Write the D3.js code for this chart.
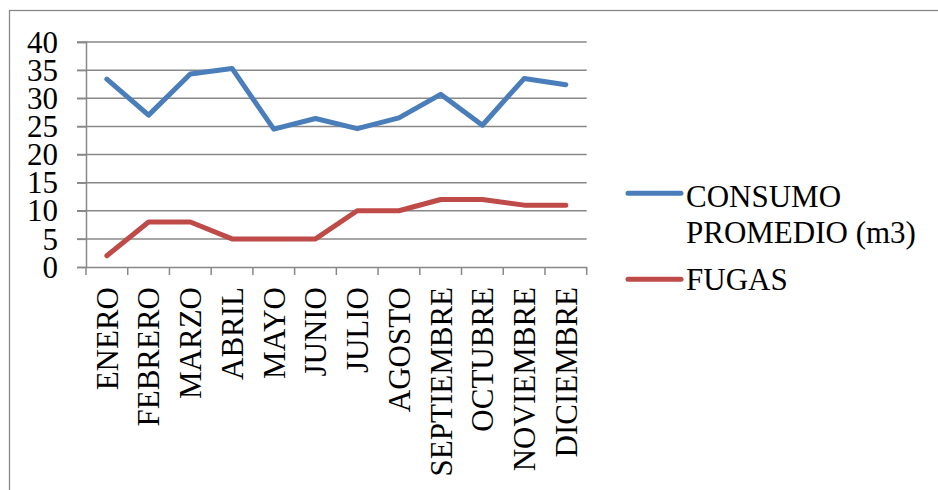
<!DOCTYPE html>
<html>
<head>
<meta charset="utf-8">
<script src="https://cdn.jsdelivr.net/npm/d3@7"></script>
<style>
html,body{margin:0;padding:0;background:#fff;}
svg{display:block;}
svg text{font-family:"Liberation Serif","Times New Roman","DejaVu Serif",serif !important;fill:#000;}
</style>
</head>
<body>
<svg id="chart" width="938" height="490"></svg>
<script>
const months = ["ENERO","FEBRERO","MARZO","ABRIL","MAYO","JUNIO","JULIO","AGOSTO","SEPTIEMBRE","OCTUBRE","NOVIEMBRE","DICIEMBRE"];
const consumo = [33.4, 27.0, 34.3, 35.3, 24.5, 26.4, 24.6, 26.5, 30.7, 25.2, 33.5, 32.4];
const fugas = [2, 8, 8, 5, 5, 5, 10, 10, 12, 12, 11, 11];
const yTicks = [0, 5, 10, 15, 20, 25, 30, 35, 40];
const seriesNames = ["CONSUMO PROMEDIO (m3)", "FUGAS"];
const seriesColors = ["#4A7EBB", "#BE4B48"];

const svg = d3.select("#chart");
const FS = 31;
const plotL = 86, plotR = 586.7, plotT = 42, plotB = 267;

// outer border
svg.append("rect").attr("x", 9.5).attr("y", 10.5).attr("width", 960).attr("height", 520)
  .attr("fill", "none").attr("stroke", "#888").attr("stroke-width", 1.3);

const x = d3.scaleBand().domain(months).range([plotL, plotR]);
const y = d3.scaleLinear().domain([0, 40]).range([plotB, plotT]);

// gridlines
svg.append("g").selectAll("line").data(yTicks.filter(d => d > 0)).join("line")
  .attr("x1", plotL - 9).attr("x2", plotR)
  .attr("y1", d => y(d)).attr("y2", d => y(d))
  .attr("stroke", "#888").attr("stroke-width", 1.5);

// y axis
const yAxis = svg.append("g").attr("transform", `translate(${plotL},0)`)
  .call(d3.axisLeft(y).tickValues(yTicks).tickSize(9).tickPadding(19).tickFormat(d3.format("d")));
yAxis.attr("font-family", null);
yAxis.select(".domain").attr("stroke", "#888").attr("stroke-width", 1.5);
yAxis.selectAll(".tick line").attr("stroke", "#888").attr("stroke-width", 1.5);
yAxis.selectAll("text").attr("font-size", FS).attr("fill", "#000").attr("dy", "0.33em");

// x axis
const xAxis = svg.append("g").attr("transform", `translate(0,${plotB})`)
  .call(d3.axisBottom(x).tickSize(0).tickPadding(0));
xAxis.attr("font-family", null);
xAxis.select(".domain").attr("stroke", "#888").attr("stroke-width", 1.5);
xAxis.selectAll(".tick line").remove();
xAxis.selectAll(".tick text")
  .attr("font-size", FS).attr("fill", "#000")
  .attr("text-anchor", "end")
  .attr("transform", "rotate(-90)")
  .attr("x", -20).attr("y", 0).attr("dy", "0.35em");
// band boundary ticks
const bounds = months.map(m => x(m)).concat([x(months[months.length - 1]) + x.bandwidth()]);
xAxis.append("g").selectAll("line").data(bounds).join("line")
  .attr("x1", d => d).attr("x2", d => d).attr("y1", 0).attr("y2", 8)
  .attr("stroke", "#888").attr("stroke-width", 1.5);

// lines
const line = d3.line().x((d, i) => x(months[i]) + x.bandwidth() / 2).y(d => y(d));
[consumo, fugas].forEach((s, k) => {
  svg.append("path").datum(s).attr("d", line)
    .attr("fill", "none").attr("stroke", seriesColors[k]).attr("stroke-width", 5)
    .attr("stroke-linejoin", "round").attr("stroke-linecap", "round");
});

// legend
const leg = svg.append("g");
const legY = [193.3, 279.3];
seriesNames.forEach((name, k) => {
  leg.append("line").attr("x1", 628).attr("x2", 681).attr("y1", legY[k]).attr("y2", legY[k])
    .attr("stroke", seriesColors[k]).attr("stroke-width", 5).attr("stroke-linecap", "round");
});
const t0 = leg.append("text").attr("font-size", FS).attr("x", 686).attr("y", 206.5);
t0.append("tspan").attr("x", 686).attr("y", 206.5).text("CONSUMO");
t0.append("tspan").attr("x", 686).attr("y", 243).text("PROMEDIO (m3)");
leg.append("text").attr("font-size", FS).attr("x", 686).attr("y", 290).text(seriesNames[1]);
</script>
</body>
</html>
